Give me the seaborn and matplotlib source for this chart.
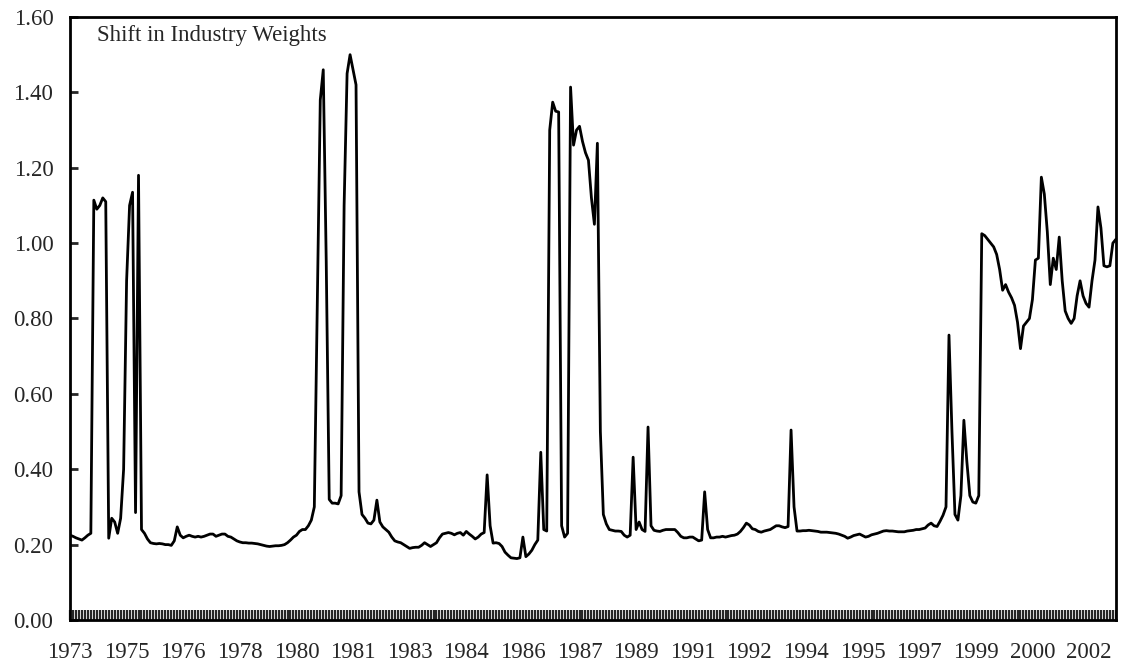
import numpy as np
import pandas as pd
import matplotlib
matplotlib.use("Agg")
import matplotlib.pyplot as plt
import seaborn as sns

# monthly values, Sep 1973 .. Dec 2002
shift_weights = [
    0.225, 0.222, 0.218, 0.215, 0.212, 0.218, 0.225, 0.230, 1.114, 1.090, 1.100, 1.120,
    1.110, 0.217, 0.270, 0.260, 0.230, 0.270, 0.400, 0.900, 1.100, 1.135, 0.285, 1.180,
    0.240, 0.230, 0.215, 0.205, 0.203, 0.202, 0.203, 0.202, 0.200, 0.200, 0.198, 0.210,
    0.247, 0.225, 0.218, 0.222, 0.225, 0.222, 0.220, 0.222, 0.220, 0.222, 0.225, 0.228,
    0.228, 0.222, 0.225, 0.228, 0.228, 0.222, 0.220, 0.215, 0.210, 0.207, 0.205, 0.205,
    0.204, 0.204, 0.203, 0.202, 0.200, 0.198, 0.196, 0.195, 0.196, 0.197, 0.197, 0.198,
    0.200, 0.205, 0.212, 0.220, 0.225, 0.235, 0.240, 0.240, 0.250, 0.265, 0.300, 0.850,
    1.380, 1.460, 0.950, 0.320, 0.310, 0.310, 0.308, 0.330, 1.100, 1.450, 1.500, 1.460,
    1.420, 0.340, 0.280, 0.270, 0.257, 0.255, 0.265, 0.318, 0.260, 0.247, 0.240, 0.233,
    0.220, 0.210, 0.207, 0.205, 0.200, 0.195, 0.190, 0.192, 0.193, 0.193, 0.198, 0.205,
    0.200, 0.195, 0.200, 0.205, 0.218, 0.228, 0.230, 0.232, 0.230, 0.226, 0.230, 0.232,
    0.225, 0.235, 0.228, 0.222, 0.215, 0.220, 0.228, 0.232, 0.385, 0.250, 0.204, 0.205,
    0.203, 0.195, 0.180, 0.172, 0.165, 0.164, 0.163, 0.165, 0.220, 0.168, 0.175, 0.185,
    0.200, 0.212, 0.445, 0.240, 0.236, 1.300, 1.374, 1.350, 1.348, 0.250, 0.220, 0.230,
    1.414, 1.260, 1.300, 1.310, 1.270, 1.240, 1.220, 1.120, 1.050, 1.265, 0.500, 0.280,
    0.255, 0.240, 0.238, 0.236, 0.236, 0.235, 0.225, 0.220, 0.225, 0.432, 0.240, 0.260,
    0.240, 0.235, 0.512, 0.250, 0.238, 0.236, 0.235, 0.238, 0.240, 0.240, 0.240, 0.240,
    0.232, 0.222, 0.218, 0.218, 0.220, 0.220, 0.215, 0.210, 0.212, 0.340, 0.240, 0.218,
    0.218, 0.220, 0.220, 0.222, 0.220, 0.222, 0.224, 0.225, 0.228, 0.235, 0.245, 0.257,
    0.252, 0.242, 0.240, 0.235, 0.233, 0.236, 0.238, 0.240, 0.245, 0.250, 0.250, 0.247,
    0.245, 0.248, 0.504, 0.300, 0.236, 0.236, 0.237, 0.237, 0.238, 0.237, 0.236, 0.235,
    0.233, 0.233, 0.233, 0.232, 0.231, 0.230, 0.228, 0.225, 0.222, 0.217, 0.220, 0.224,
    0.226, 0.228, 0.224, 0.220, 0.222, 0.226, 0.228, 0.230, 0.233, 0.236, 0.237, 0.236,
    0.236, 0.235, 0.234, 0.234, 0.234, 0.236, 0.237, 0.238, 0.240, 0.240, 0.242, 0.244,
    0.252, 0.257, 0.250, 0.248, 0.262, 0.278, 0.300, 0.756, 0.500, 0.280, 0.265, 0.330,
    0.530, 0.420, 0.330, 0.313, 0.310, 0.330, 1.025, 1.020, 1.010, 1.000, 0.990, 0.970,
    0.930, 0.875, 0.890, 0.870, 0.855, 0.835, 0.790, 0.720, 0.780, 0.790, 0.800, 0.850,
    0.955, 0.960, 1.175, 1.130, 1.030, 0.890, 0.960, 0.930, 1.016, 0.900, 0.820, 0.800,
    0.787, 0.800, 0.860, 0.900, 0.860, 0.840, 0.830, 0.900, 0.955, 1.096, 1.040, 0.940,
    0.937, 0.940, 1.000, 1.010,
]

tick_years = ["1973", "1975", "1976", "1978", "1980", "1981", "1983", "1984", "1986",
              "1987", "1989", "1991", "1992", "1994", "1995", "1997", "1999", "2000", "2002"]
label_every = 19  # months between year labels

y_ticks = [0.0, 0.2, 0.4, 0.6, 0.8, 1.0, 1.2, 1.4, 1.6]

df = pd.DataFrame({"month": np.arange(len(shift_weights)), "shift": shift_weights})

sns.set_style("ticks")
plt.rcParams['font.family'] = ['Liberation Serif', 'DejaVu Serif']

fig = plt.figure(figsize=(11.27, 6.72), dpi=100)
ax = fig.add_axes([0.0621, 0.0774, 0.928, 0.8973])

sns.lineplot(data=df, x="month", y="shift", color="black", linewidth=2.0, ax=ax)

ax.set_xlim(0, len(shift_weights) - 1)
ax.set_ylim(0, 1.6)

ax.set_xticks(df["month"][::label_every][:len(tick_years)])
ax.set_xticklabels(tick_years)
ax.set_xticks(df["month"], minor=True)
ax.set_yticks(y_ticks)
ax.set_yticklabels([f"{v:.2f}" for v in y_ticks])

ax.tick_params(axis="x", which="both", direction="in", length=7.5, width=1.6,
               pad=16, labelsize=16.5)
ax.tick_params(axis="y", direction="in", length=6, width=2, pad=12, labelsize=16.5)

for side in ["left", "right", "top", "bottom"]:
    ax.spines[side].set_visible(True)
    ax.spines[side].set_linewidth(2)
    ax.spines[side].set_color("black")

ax.set_xlabel("")
ax.set_ylabel("")
ax.text(0.026, 0.97, "Shift in Industry Weights", transform=ax.transAxes,
        fontsize=16.5, va="center", ha="left")

fig.savefig("out.png", dpi=100)
